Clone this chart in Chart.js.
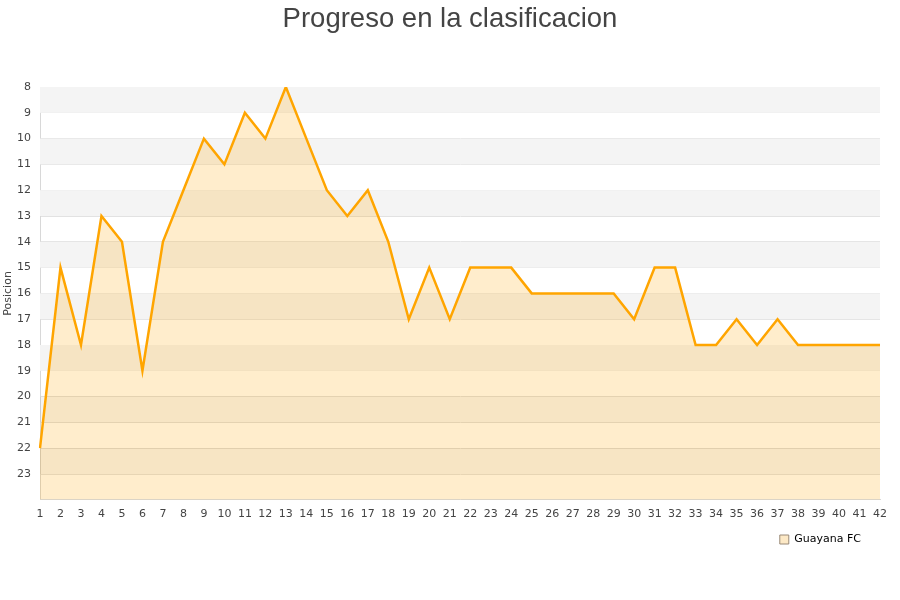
<!DOCTYPE html>
<html><head><meta charset="utf-8">
<script src="https://cdn.jsdelivr.net/npm/chart.js@4"></script>
<style>html,body{margin:0;padding:0;background:#fff}#w{width:900px;height:600px}</style>
</head><body><div id="w"><canvas id="c"></canvas></div>
<script>
const jornadas = [1,2,3,4,5,6,7,8,9,10,11,12,13,14,15,16,17,18,19,20,21,22,23,24,25,26,27,28,29,30,31,32,33,34,35,36,37,38,39,40,41,42];
const posiciones = [22,15,18,13,14,19,14,12,10,11,9,10,8,10,12,13,12,14,17,15,17,15,15,15,16,16,16,16,16,17,15,15,18,18,17,18,17,18,18,18,18,18];
const yMin = 8, yMax = 24;
const seriesName = 'Guayana FC';
const titleText = 'Progreso en la clasificacion';
const yTitle = 'Posicion';

const bands = {
  id: 'bands',
  beforeDatasetsDraw(chart) {
    const {ctx, chartArea, scales: {y}} = chart;
    ctx.save();
    for (let v = yMin; v < yMax; v += 2) {
      const p1 = y.getPixelForValue(v), p2 = y.getPixelForValue(v + 1);
      ctx.fillStyle = v >= 20 ? 'rgba(0,0,0,0.045)' : '#f4f4f4';
      ctx.fillRect(chartArea.left, Math.min(p1,p2), chartArea.right - chartArea.left, Math.abs(p2-p1));
    }
    ctx.restore();
  }
};

const shiftBoxes = {
  id: 'shiftBoxes',
  afterLayout(chart) {
    const l = chart.legend;
    l.left -= 9; l.right -= 9;
    l.top -= 5; l.bottom -= 5;
    const t = chart.titleBlock;
    t.left = 0; t.right = chart.width; t.width = chart.width;
  }
};

new Chart(document.getElementById('c'), {
  type: 'line',
  data: {
    labels: jornadas,
    datasets: [{
      label: seriesName,
      data: posiciones,
      borderColor: '#ffa500',
      backgroundColor: 'rgba(255,165,0,0.2)',
      borderWidth: 2.5,
      pointRadius: 0,
      tension: 0,
      fill: 'start'
    }]
  },
  options: {
    responsive: true,
    maintainAspectRatio: false,
    animation: false,
    layout: {padding: {left: 2, right: 20, top: 0, bottom: 40}},
    plugins: {
      title: {display: true, text: titleText, color: '#444', font: {family: 'Liberation Sans, Arial', size: 27.5, weight: 'normal'}, padding: {top: 3, bottom: 51}},
      legend: {position: 'bottom', align: 'end', labels: {color: '#000', font: {family: 'DejaVu Sans', size: 11}, boxWidth: 9, boxHeight: 9, padding: 10,
        generateLabels(chart) {
          const items = Chart.defaults.plugins.legend.labels.generateLabels(chart);
          items.forEach(it => { it.fillStyle = '#fde9c6'; it.strokeStyle = '#9a8a78'; it.lineWidth = 1; });
          return items;
        }}},
      tooltip: {enabled: false}
    },
    scales: {
      x: {
        type: 'category',
        offset: false,
        grid: {display: false, drawTicks: false},
        border: {color: '#d8d8d8'},
        ticks: {color: '#444', font: {family: 'DejaVu Sans', size: 11}, maxRotation: 0, autoSkip: false, padding: 8}
      },
      y: {
        reverse: true,
        min: yMin, max: yMax,
        afterFit(scale) { scale.width = 38; },
        grid: {color: '#e2e2e2', drawTicks: false},
        border: {color: '#d8d8d8'},
        title: {display: true, text: yTitle, color: '#444', font: {family: 'DejaVu Sans', size: 11}, padding: 0},
        ticks: {stepSize: 1, color: '#444', font: {family: 'DejaVu Sans', size: 11}, padding: 9,
          callback: v => v >= yMax ? '' : v}
      }
    }
  },
  plugins: [bands, shiftBoxes]
});
</script></body></html>
